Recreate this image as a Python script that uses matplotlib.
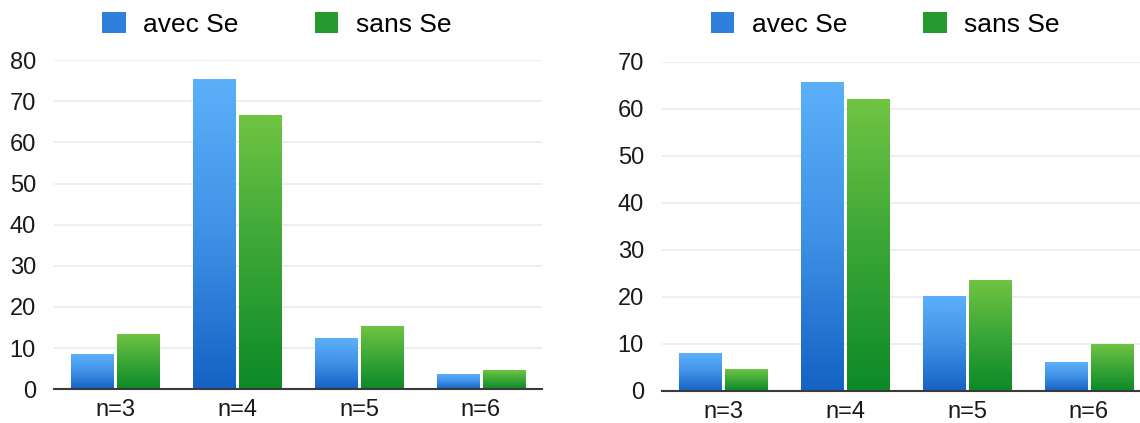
import numpy as np
import matplotlib
matplotlib.use("Agg")
import matplotlib.pyplot as plt
from matplotlib.patches import Patch
from matplotlib.colors import LinearSegmentedColormap

plt.rcParams['font.family'] = ['Liberation Sans', 'DejaVu Sans']

# data
categories = ['n=3', 'n=4', 'n=5', 'n=6']
series_names = ['avec Se', 'sans Se']
left_avec = [8.3, 75.2, 12.3, 3.6]
left_sans = [13.2, 66.4, 15.3, 4.6]
right_avec = [7.9, 65.6, 20.1, 6.1]
right_sans = [4.6, 61.9, 23.5, 9.9]
left_ticks = [0, 10, 20, 30, 40, 50, 60, 70, 80]
right_ticks = [0, 10, 20, 30, 40, 50, 60, 70]

# gradient colours (bottom -> top)
blue_cmap = LinearSegmentedColormap.from_list('b', ['#1462c4', '#3f91e6', '#5cb0fa'])
green_cmap = LinearSegmentedColormap.from_list('g', ['#0c8a28', '#3aa637', '#70c442'])


def gradient_bars(ax, x, vals, width, cmap):
    bars = ax.bar(x, vals, width, color='none', edgecolor='none', zorder=2)
    grad = np.linspace(0, 1, 256).reshape(-1, 1)
    for b in bars:
        x0, y0 = b.get_x(), b.get_y()
        ax.imshow(grad, extent=[x0, x0 + b.get_width(), y0, y0 + b.get_height()],
                  origin='lower', aspect='auto', cmap=cmap, zorder=2)
    return bars


def draw_panel(ax, avec, sans, ticks):
    x = np.arange(len(categories))
    w = 0.345
    off = 0.186
    gradient_bars(ax, x - off, avec, w, blue_cmap)
    gradient_bars(ax, x + off, sans, w, green_cmap)
    ax.set_xlim(-0.5, len(categories) - 0.5)
    ax.set_ylim(0, ticks[-1])
    ax.set_yticks(ticks)
    ax.set_xticks(x)
    ax.set_xticklabels(categories)
    ax.yaxis.grid(True, color='#ebebeb', linewidth=1.2)
    ax.set_axisbelow(True)
    for s in ['top', 'right', 'left']:
        ax.spines[s].set_visible(False)
    ax.spines['bottom'].set_color('#3a3a3a')
    ax.spines['bottom'].set_linewidth(1.5)
    ax.spines['bottom'].set_zorder(3)
    ax.tick_params(axis='both', length=0, labelsize=17, colors='#1a1a1a')
    ax.tick_params(axis='y', pad=13)
    ax.tick_params(axis='x', pad=7)


fig = plt.figure(figsize=(11.4, 4.23), dpi=100)
ax1 = fig.add_axes([0.0474, 0.0797, 0.428, 0.7783])
ax2 = fig.add_axes([0.5807, 0.0757, 0.428, 0.7789])

draw_panel(ax1, left_avec, left_sans, left_ticks)
draw_panel(ax2, right_avec, right_sans, right_ticks)

handles = [Patch(facecolor='#2f80dc', edgecolor='none'),
           Patch(facecolor='#26992f', edgecolor='none')]
for cx in [0.2425, 0.7765]:
    fig.legend(handles, series_names, loc='center', bbox_to_anchor=(cx, 0.943),
               ncol=2, frameon=False, fontsize=19, handlelength=0.9,
               handleheight=0.9, handletextpad=0.65, columnspacing=2.9)

fig.savefig('out.png', dpi=100)
